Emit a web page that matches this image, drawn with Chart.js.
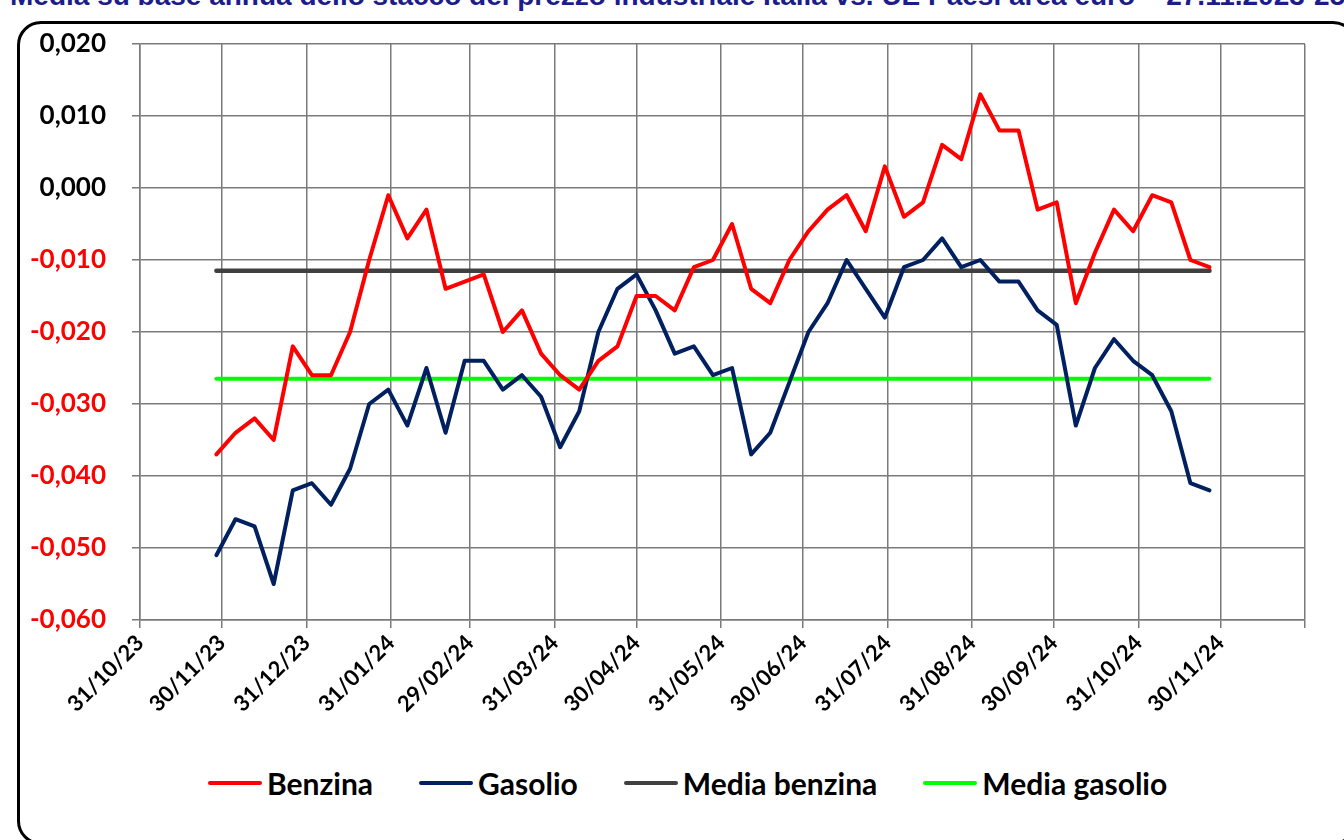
<!DOCTYPE html>
<html>
<head>
<meta charset="utf-8">
<script src="https://cdn.jsdelivr.net/npm/chart.js@4.4.1/dist/chart.umd.min.js"></script>
<style>
    html, body { margin: 0; padding: 0; background: #ffffff; }
    body { width: 1344px; height: 840px; overflow: hidden; position: relative; }
    #title {
        position: absolute; left: 10px; top: -18px; white-space: nowrap;
        font: bold 28px "Liberation Sans", Arial, sans-serif; line-height: 28px; color: #1c1c8a;
    }
    #frame {
        position: absolute; left: 17px; top: 21px; width: 1340px; height: 824px;
        border: 3px solid #000000; border-radius: 24px; box-sizing: border-box;
    }
    #chartBox { position: absolute; left: 0; top: 0; width: 1344px; height: 720px; }
    #legend {
        position: absolute; left: 208px; top: 765px; display: flex; align-items: center;
        font: bold 30px Lato, "Noto Sans", sans-serif; color: #000000;
    }
    .item { display: flex; align-items: center; margin-right: 46px; }
    .swatch { width: 54px; height: 4px; border-radius: 2px; margin-right: 5px; }
</style>
</head>
<body>
<div id="title">Media su base annua dello stacco del prezzo industriale Italia vs. UE Paesi area euro – 27.11.2023-25.11.2024</div>
<div id="frame"></div>
<div id="chartBox"><canvas id="stackChart" width="1344" height="720"></canvas></div>
<div id="legend"></div>

<script>
// Date settimanali dei rilevamenti
const dates = [
    '2023-11-28', '2023-12-05', '2023-12-12', '2023-12-19', '2023-12-26',
    '2024-01-02', '2024-01-09', '2024-01-16', '2024-01-23', '2024-01-30',
    '2024-02-06', '2024-02-13', '2024-02-20', '2024-02-27',
    '2024-03-05', '2024-03-12', '2024-03-19', '2024-03-26',
    '2024-04-02', '2024-04-09', '2024-04-16', '2024-04-23', '2024-04-30',
    '2024-05-07', '2024-05-14', '2024-05-21', '2024-05-28',
    '2024-06-04', '2024-06-11', '2024-06-18', '2024-06-25',
    '2024-07-02', '2024-07-09', '2024-07-16', '2024-07-23', '2024-07-30',
    '2024-08-06', '2024-08-13', '2024-08-20', '2024-08-27',
    '2024-09-03', '2024-09-10', '2024-09-17', '2024-09-24',
    '2024-10-01', '2024-10-08', '2024-10-15', '2024-10-22', '2024-10-29',
    '2024-11-05', '2024-11-12', '2024-11-19', '2024-11-26'
];

const benzina = [
    -0.037, -0.034, -0.032, -0.035, -0.022,
    -0.026, -0.026, -0.020, -0.010, -0.001,
    -0.007, -0.003, -0.014, -0.013,
    -0.012, -0.020, -0.017, -0.023,
    -0.026, -0.028, -0.024, -0.022, -0.015,
    -0.015, -0.017, -0.011, -0.010,
    -0.005, -0.014, -0.016, -0.010,
    -0.006, -0.003, -0.001, -0.006, 0.003,
    -0.004, -0.002, 0.006, 0.004,
    0.013, 0.008, 0.008, -0.003,
    -0.002, -0.016, -0.009, -0.003, -0.006,
    -0.001, -0.002, -0.010, -0.011
];

const gasolio = [
    -0.051, -0.046, -0.047, -0.055, -0.042,
    -0.041, -0.044, -0.039, -0.030, -0.028,
    -0.033, -0.025, -0.034, -0.024,
    -0.024, -0.028, -0.026, -0.029,
    -0.036, -0.031, -0.020, -0.014, -0.012,
    -0.017, -0.023, -0.022, -0.026,
    -0.025, -0.037, -0.034, -0.027,
    -0.020, -0.016, -0.010, -0.014, -0.018,
    -0.011, -0.010, -0.007, -0.011,
    -0.010, -0.013, -0.013, -0.017,
    -0.019, -0.033, -0.025, -0.021, -0.024,
    -0.026, -0.031, -0.041, -0.042
];

// Medie (inizio e fine periodo)
const mediaBenzina = [-0.0115, -0.0115];
const mediaGasolio = [-0.0265, -0.0265];

// Fine mese per la griglia verticale
const tickDates = [
    '2023-10-31', '2023-11-30', '2023-12-31', '2024-01-31', '2024-02-29',
    '2024-03-31', '2024-04-30', '2024-05-31', '2024-06-30', '2024-07-31',
    '2024-08-31', '2024-09-30', '2024-10-31', '2024-11-30', '2024-12-31'
];
const shownTickLabels = 14;

const seriesNames = ['Benzina', 'Gasolio', 'Media benzina', 'Media gasolio'];
const seriesColors = ['#ff0000', '#002060', '#404040', '#00ff00'];

function day(iso) {
    return Date.UTC(+iso.slice(0, 4), +iso.slice(5, 7) - 1, +iso.slice(8, 10)) / 86400000;
}

function fmtDate(d) {
    const dt = new Date(d * 86400000);
    const dd = String(dt.getUTCDate()).padStart(2, '0');
    const mm = String(dt.getUTCMonth() + 1).padStart(2, '0');
    const yy = String(dt.getUTCFullYear()).slice(2);
    return `${dd}/${mm}/${yy}`;
}

function fmtValue(v) {
    const s = Math.abs(v).toFixed(3).replace('.', ',');
    return v < -1e-9 ? '-' + s : s;
}

const firstLast = [dates[0], dates[dates.length - 1]];
const gridColor = '#7a7a7a';

const ctx = document.getElementById('stackChart').getContext('2d');
new Chart(ctx, {
    type: 'line',
    data: {
        datasets: [
            {
                label: seriesNames[0],
                data: dates.map((d, i) => ({ x: day(d), y: benzina[i] })),
                borderColor: seriesColors[0],
                borderWidth: 4
            },
            {
                label: seriesNames[1],
                data: dates.map((d, i) => ({ x: day(d), y: gasolio[i] })),
                borderColor: seriesColors[1],
                borderWidth: 4
            },
            {
                label: seriesNames[2],
                data: firstLast.map((d, i) => ({ x: day(d), y: mediaBenzina[i] })),
                borderColor: seriesColors[2],
                borderWidth: 4.5
            },
            {
                label: seriesNames[3],
                data: firstLast.map((d, i) => ({ x: day(d), y: mediaGasolio[i] })),
                borderColor: seriesColors[3],
                borderWidth: 4
            }
        ]
    },
    options: {
        responsive: false,
        animation: false,
        devicePixelRatio: 1,
        layout: { padding: { left: 30, right: 39, top: 44, bottom: 0 } },
        elements: {
            point: { radius: 0, hoverRadius: 0 },
            line: { tension: 0, borderCapStyle: 'round', borderJoinStyle: 'round' }
        },
        plugins: {
            legend: { display: false },
            tooltip: { enabled: false }
        },
        scales: {
            x: {
                type: 'linear',
                min: day(tickDates[0]),
                max: day(tickDates[tickDates.length - 1]),
                afterBuildTicks: scale => {
                    scale.ticks = tickDates.map(d => ({ value: day(d) }));
                },
                afterFit: scale => { scale.height = 100; },
                grid: { color: gridColor, lineWidth: 1.5, tickLength: 8 },
                border: { color: gridColor, width: 1.5 },
                ticks: {
                    autoSkip: false,
                    minRotation: 45,
                    maxRotation: 45,
                    padding: 2,
                    color: '#000000',
                    font: { family: 'Lato', size: 22, weight: 'bold' },
                    callback: (value, index) => index < shownTickLabels ? fmtDate(value) : ''
                }
            },
            y: {
                min: -0.06,
                max: 0.02,
                afterFit: scale => { scale.width = 110; },
                grid: { color: gridColor, lineWidth: 1.5, tickLength: 8 },
                border: { color: gridColor, width: 1.5 },
                ticks: {
                    stepSize: 0.01,
                    padding: 26,
                    color: c => (c.tick && c.tick.value < -1e-9) ? '#ff0000' : '#000000',
                    font: { family: 'Lato', size: 26, weight: 'bold' },
                    callback: v => fmtValue(v)
                }
            }
        }
    }
});

// Legenda
const legend = document.getElementById('legend');
seriesNames.forEach((name, i) => {
    const item = document.createElement('div');
    item.className = 'item';
    item.innerHTML = `<span class="swatch" style="background:${seriesColors[i]}"></span><span>${name}</span>`;
    legend.appendChild(item);
});
</script>
</body>
</html>
